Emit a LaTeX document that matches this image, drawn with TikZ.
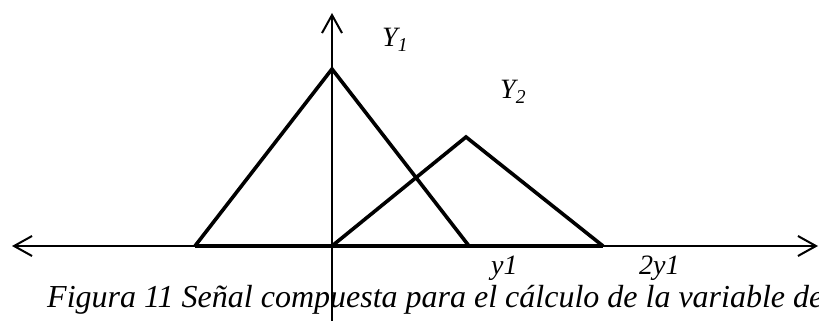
\documentclass[tikz,border=0pt]{standalone}
\usepackage{fontspec}
\setmainfont{Liberation Serif}
\usetikzlibrary{arrows.meta}
\begin{document}
\begin{tikzpicture}[x=1pt,y=-1pt,
  axis/.style={line width=2pt,-{Straight Barb[length=18pt,width=20pt,line width=2pt]}},
  tri/.style={line width=3.6pt,line join=miter},
  lbl/.style={anchor=base west,inner sep=0pt,font=\fontsize{28}{32}\selectfont\itshape},
  captext/.style={anchor=base west,inner sep=0pt,font=\fontsize{32}{38}\selectfont\itshape}]
\useasboundingbox (0,0) rectangle (819,321);
% axes
\coordinate (O) at (332,246);
\coordinate (xl) at (12,246);
\coordinate (xr) at (818,246);
\coordinate (yt) at (332,13);
\coordinate (yb) at (332,321);
\draw[axis] (O) -- (xl);
\draw[axis] (O) -- (xr);
\draw[axis] (yb) -- (yt);
% triangles
\coordinate (a1) at (195,246);
\coordinate (p1) at (332,69);
\coordinate (b1) at (469,246);
\coordinate (a2) at (332,246);
\coordinate (p2) at (466,137);
\coordinate (b2) at (603,246);
\draw[tri] (a1) -- (p1) -- (b1);
\draw[tri] (a2) -- (p2) -- (b2);
\draw[tri] (a1) -- (b2);
% labels
\node[lbl] (Y1) at (382,47) {Y\textsubscript{1}};
\node[lbl] (Y2) at (500,99) {Y\textsubscript{2}};
\node[lbl] (ly1) at (491,274) {y1};
\node[lbl] (l2y1) at (639,274) {2y1};
\node[captext] (caption) at (47,307) {Figura 11 Señal compuesta para el cálculo de la variable de};
\end{tikzpicture}
\end{document}
